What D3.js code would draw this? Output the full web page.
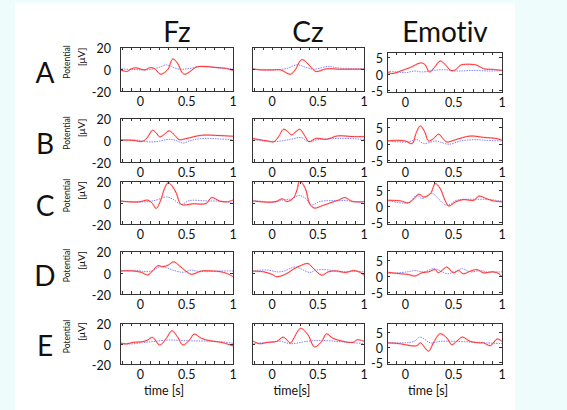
<!DOCTYPE html>
<html>
<head>
<meta charset="utf-8">
<script src="https://cdn.jsdelivr.net/npm/d3@7"></script>
<style>
  html, body { margin: 0; padding: 0; background: #effcfc; }
  svg { display: block; }
  text { font-family: Lato, "Open Sans", sans-serif; fill: #111; }
</style>
</head>
<body>
<div id="chart"></div>
<script>
// DATA -------------------------------------------------------------------
const rowNames = ["A", "B", "C", "D", "E"];
const colNames = ["Fz", "Cz", "Emotiv"];
const xTickValues = [0, 0.5, 1];
const xMinorTicks = [-0.2, -0.1, 0, 0.1, 0.2, 0.3, 0.4, 0.5, 0.6, 0.7, 0.8, 0.9, 1];
const capTicks = [-20, 0, 20];
const emotivTicks = [-5, 0, 5];
const xLabels = ["time [s]", "time[s]", "time [s]"];

// [time (s), potential (uV)] for each row / channel; red = target, blue = standard
const fzA_red = [[-0.23,0],[-0.15,-2.3],[-0.1,0],[-0.05,1.1],[0,0],[0.05,-0.8],[0.1,1.1],[0.15,0.5],[0.2,-3.8],[0.22,-4.8],[0.25,-3.8],[0.3,0],[0.35,9.1],[0.4,5.4],[0.45,-3.2],[0.48,-4.8],[0.55,-1.4],[0.6,1.7],[0.66,2.3],[0.86,1.1],[0.93,0.5],[1,-1.4]];
const fzA_blue = [[-0.23,0.2],[-0.08,-0.5],[0.06,-0.8],[0.13,-0.2],[0.21,1.7],[0.28,3.8],[0.33,2.3],[0.42,-0.2],[0.53,0.5],[0.64,2.3],[0.71,2.3],[0.86,0.8],[1,0.2]];
const czA_red = [[-0.22,0.2],[-0.125,-0.8],[0,-0.8],[0.09,-0.8],[0.2,-4.8],[0.25,-0.8],[0.32,8.5],[0.375,6],[0.43,0.8],[0.48,-2.3],[0.59,0.2],[0.73,-0.2],[0.875,-0.2],[1,-0.2]];
const czA_blue = [[-0.22,-0.2],[0.02,-0.8],[0.16,0.5],[0.27,3.8],[0.36,1.7],[0.45,-0.2],[0.61,2.3],[0.73,0.8],[1,0.2]];
const emA_red = [[-0.19,0.5],[-0.14,0],[-0.05,0.8],[0.05,1.9],[0.155,3.3],[0.2,2.9],[0.25,0.5],[0.3,1.9],[0.36,3.9],[0.41,2.9],[0.47,1],[0.52,1.2],[0.57,2.6],[0.64,2.9],[0.74,2.6],[0.81,1.5],[0.91,1.3],[1,1]];
const emA_blue = [[-0.19,0.7],[-0.09,0.5],[0,0.3],[0.1,0.8],[0.17,0.5],[0.29,1],[0.4,1.2],[0.53,0.8],[0.71,1],[0.88,0.8],[1,1]];

const fzB_red = [[-0.23,0],[-0.08,-0.3],[0.025,-1.2],[0.08,2.8],[0.13,8.9],[0.17,6.5],[0.21,2.8],[0.26,5.2],[0.31,8.3],[0.37,4.3],[0.42,0.3],[0.49,1.2],[0.66,4.3],[0.86,4],[1,3.4]];
const fzB_blue = [[-0.23,-0.3],[-0.05,0],[0.025,-0.9],[0.12,-1.8],[0.21,-0.9],[0.28,0.3],[0.33,0.6],[0.4,-0.9],[0.46,-2.8],[0.53,-0.9],[0.6,0.6],[0.71,1.5],[0.86,0.9],[1,0.3]];
const czB_red = [[-0.22,1.5],[-0.05,-0.9],[0.02,-1.5],[0.07,3.1],[0.125,9.8],[0.18,6.8],[0.21,4.6],[0.26,7.7],[0.3,9.8],[0.36,3.1],[0.4,-1.5],[0.48,1.5],[0.59,0.6],[0.71,3.7],[0.88,3.1],[1,3.1]];
const czB_blue = [[-0.22,0.6],[0.02,-1.5],[0.2,0.6],[0.32,2.2],[0.39,-1.5],[0.52,0.6],[0.73,1.5],[1,0.6]];
const emB_red = [[-0.19,0.8],[-0.09,1],[0,0.8],[0.07,0],[0.11,3.1],[0.155,5.4],[0.2,3.6],[0.24,0.8],[0.29,1.5],[0.345,2.9],[0.39,1.5],[0.43,0.5],[0.52,1.2],[0.67,2.3],[0.81,1.9],[0.95,1.5],[1,1]];
const emB_blue = [[-0.19,0.8],[0.02,0.5],[0.12,1.2],[0.19,0],[0.31,0.8],[0.36,0.5],[0.45,-0.2],[0.57,0.8],[0.71,1.2],[0.84,1],[1,0.8]];

const fzC_red = [[-0.23,1.5],[-0.12,0.6],[-0.01,0.6],[0.08,2.2],[0.13,-0.9],[0.17,-5.5],[0.22,2.2],[0.26,12.9],[0.3,18.5],[0.35,14.5],[0.39,8.3],[0.44,-1.8],[0.57,-1.2],[0.71,-0.9],[0.77,4.6],[0.86,1.2],[0.93,0.6],[1,2.2]];
const fzC_blue = [[-0.23,1.2],[0.06,0.6],[0.17,2.2],[0.28,5.2],[0.35,3.1],[0.44,-1.8],[0.53,1.8],[0.71,1.5],[0.86,1.2],[0.96,0],[1,-0.9]];
const czC_red = [[-0.22,1.5],[-0.05,0.3],[0.04,0.9],[0.11,3.4],[0.16,0.9],[0.23,4],[0.27,11.7],[0.3,20],[0.36,13.2],[0.41,-1.5],[0.46,-5.2],[0.55,-2.8],[0.625,-0.6],[0.73,2.5],[0.79,4.6],[0.875,0.9],[1,0.9]];
const czC_blue = [[-0.22,2.2],[0.02,0.3],[0.125,2.5],[0.21,3.4],[0.29,6.5],[0.36,4],[0.43,-2.2],[0.52,0.9],[0.66,1.8],[0.84,1.5],[1,-0.6]];
const emC_red = [[-0.19,1.8],[-0.05,1.6],[0.03,1],[0.09,2.3],[0.14,3.7],[0.19,2.8],[0.26,3.9],[0.31,7],[0.36,5.5],[0.41,1.8],[0.45,0],[0.52,1.3],[0.6,2],[0.71,1.8],[0.76,3.1],[0.84,2.3],[0.91,1.6],[1,1.3]];
const emC_blue = [[-0.19,1.8],[0.03,1],[0.12,3.4],[0.17,2.3],[0.28,3.9],[0.34,2.3],[0.43,0.2],[0.53,1.8],[0.71,2.1],[0.88,2],[1,1.5]];

const fzD_red = [[-0.23,1.4],[-0.08,1.4],[0.01,0.2],[0.08,-2.3],[0.13,1.4],[0.19,6.3],[0.24,5.4],[0.3,6.9],[0.36,10],[0.42,6.3],[0.49,1.4],[0.55,-1.7],[0.66,1.4],[0.78,1.4],[0.86,0.8],[0.93,-0.8],[1,-3.8]];
const fzD_blue = [[-0.23,1.4],[-0.05,2],[0.06,0.8],[0.13,1.7],[0.21,5.4],[0.28,4.5],[0.35,2.3],[0.46,0.2],[0.55,2.3],[0.6,1.4],[0.71,0.8],[0.86,1.4],[1,1.4]];
const czD_red = [[-0.22,1.2],[-0.09,0.6],[0,-1.8],[0.05,-4],[0.16,-0.9],[0.23,3.1],[0.32,6.8],[0.39,8.3],[0.45,3.7],[0.54,-2.5],[0.61,0.6],[0.7,1.5],[0.8,0],[0.89,1.8],[0.96,0],[1,-2.5]];
const czD_blue = [[-0.22,1.5],[-0.05,2.3],[0.05,0.6],[0.125,1.2],[0.25,5.2],[0.32,3.1],[0.41,0],[0.48,2.3],[0.625,2.3],[0.73,0.6],[0.875,1.2],[1,0.6]];
const emD_red = [[-0.19,1.2],[-0.05,0.7],[0.03,0.5],[0.1,0],[0.17,1],[0.24,1.3],[0.31,2],[0.34,1],[0.4,2.3],[0.43,2.8],[0.5,1],[0.55,1.7],[0.6,0.7],[0.67,1.5],[0.74,2],[0.81,1],[0.91,1.3],[0.97,0.7],[1,-0.3]];
const emD_blue = [[-0.19,0.7],[0.02,1.3],[0.1,1.7],[0.19,1.3],[0.29,2.3],[0.36,1.7],[0.43,0.7],[0.52,1.5],[0.59,2.3],[0.67,1.3],[0.78,1.7],[0.84,1.3],[1,1.3]];

const fzE_red = [[-0.23,0.8],[-0.155,-0.5],[-0.08,1.1],[0.025,1.8],[0.08,3.4],[0.13,6],[0.21,-1.5],[0.28,5],[0.34,12.4],[0.4,6.6],[0.46,-1.5],[0.53,3.4],[0.58,9.2],[0.66,5],[0.75,2.7],[0.82,1.8],[0.89,0.8],[1,-2.4]];
const fzE_blue = [[-0.23,0.8],[-0.12,-0.5],[0.025,0.8],[0.13,1.8],[0.31,3.4],[0.49,2.7],[0.68,2.4],[0.86,1.8],[1,0.2]];
const czE_red = [[-0.22,3],[-0.14,-0.2],[-0.05,1.1],[0.05,2.1],[0.12,6.2],[0.2,0.5],[0.23,4.3],[0.31,14.8],[0.39,8.4],[0.46,-3.3],[0.54,2.1],[0.59,9.4],[0.66,5.2],[0.77,2.1],[0.88,1.1],[0.93,3.7],[1,2.1]];
const czE_blue = [[-0.22,-0.2],[-0.05,1.1],[0.09,2.1],[0.2,-0.2],[0.375,2.1],[0.52,3],[0.7,2.1],[0.84,1.1],[1,-0.2]];
const emE_red = [[-0.19,1.3],[-0.05,1],[0.05,0.4],[0.12,0.4],[0.155,1.3],[0.24,-1.4],[0.29,1.3],[0.36,4.3],[0.43,2.9],[0.48,0.7],[0.53,1.8],[0.59,3.2],[0.67,1.8],[0.78,1.3],[0.81,1.3],[0.88,0.4],[0.95,2.6],[1,1.8]];
const emE_blue = [[-0.19,1.5],[-0.02,1.3],[0.09,1.8],[0.155,3.2],[0.26,1.3],[0.36,1.8],[0.53,1.8],[0.71,1.5],[0.84,1.3],[1,1.1]];

const series = {
  A: [[fzA_red, fzA_blue], [czA_red, czA_blue], [emA_red, emA_blue]],
  B: [[fzB_red, fzB_blue], [czB_red, czB_blue], [emB_red, emB_blue]],
  C: [[fzC_red, fzC_blue], [czC_red, czC_blue], [emC_red, emC_blue]],
  D: [[fzD_red, fzD_blue], [czD_red, czD_blue], [emD_red, emD_blue]],
  E: [[fzE_red, fzE_blue], [czE_red, czE_blue], [emE_red, emE_blue]],
};

// LAYOUT ----------------------------------------------------------------
const width = 567, height = 410;
const colBox = [
  { x0: 120, x1: 233, xDomain: [-0.22, 1], yDomain: [-20, 20], ticks: capTicks, labelGap: 9 },
  { x0: 252, x1: 364, xDomain: [-0.22, 1], yDomain: [-20, 20], ticks: capTicks, labelGap: null },
  { x0: 387, x1: 502, xDomain: [-0.19, 1], yDomain: [-5.6, 7.8], ticks: emotivTicks, labelGap: 4 },
];
const rowBox = [
  { y0: 47, y1: 91 },
  { y0: 118, y1: 162 },
  { y0: 181, y1: 224 },
  { y0: 251, y1: 294 },
  { y0: 323, y1: 364 },
];
const titleX = [177, 308, 445];
const xLabelX = [164, 292, 428];

const svg = d3.select("#chart").append("svg")
  .attr("width", width)
  .attr("height", height);

// white paper area
svg.append("rect")
  .attr("x", 15).attr("y", 3)
  .attr("width", 500).attr("height", height - 3)
  .attr("fill", "#fff");

// column titles
svg.selectAll(".colTitle").data(colNames).enter()
  .append("text")
  .attr("class", "colTitle")
  .attr("x", (d, i) => titleX[i])
  .attr("y", 42)
  .attr("text-anchor", "middle")
  .style("font-size", "28px")
  .style("font-variant-ligatures", "none")
  .text(d => d);

const defs = svg.append("defs");

rowNames.forEach((rowName, ri) => {
  const rb = rowBox[ri];
  const rowMid = (rb.y0 + rb.y1) / 2;

  // row letter
  svg.append("text")
    .attr("x", 45).attr("y", rb.y1 - 8)
    .attr("text-anchor", "middle")
    .style("font-size", "28px")
    .text(rowName);

  // y label
  const yl = svg.append("g").attr("transform", `translate(0, ${rowMid})`);
  yl.append("text")
    .attr("transform", "translate(70, -7) rotate(-90)")
    .attr("text-anchor", "middle")
    .style("font-size", "8.5px")
    .text("Potential");
  yl.append("text")
    .attr("transform", "translate(85, -12) rotate(-90)")
    .attr("text-anchor", "middle")
    .style("font-size", "10px")
    .text("[\u03bcV]");

  colNames.forEach((colName, ci) => {
    const cb = colBox[ci];
    let y0 = rb.y0, y1 = rb.y1;
    let yDomain = cb.yDomain;
    if (ci === 2 && ri === 0) { y0 = 52; y1 = 92; yDomain = [-5.7, 6.7]; }

    const x = d3.scaleLinear().domain(cb.xDomain).range([cb.x0, cb.x1]);
    const y = d3.scaleLinear().domain(yDomain).range([y1, y0]);

    const clipId = `clip-${rowName}-${ci}`;
    defs.append("clipPath").attr("id", clipId)
      .append("rect")
      .attr("x", cb.x0).attr("y", y0)
      .attr("width", cb.x1 - cb.x0).attr("height", y1 - y0);

    const g = svg.append("g").attr("class", `panel panel-${rowName}-${colName}`);

    const line = d3.line()
      .x(d => x(d[0]))
      .y(d => y(d[1]))
      .curve(d3.curveCatmullRom.alpha(0.5));

    const [red, blue] = series[rowName][ci];
    const plot = g.append("g").attr("clip-path", `url(#${clipId})`);

    plot.append("path")
      .attr("d", line(blue))
      .attr("fill", "none")
      .attr("stroke", "#6f6fff")
      .attr("stroke-width", 1)
      .attr("stroke-dasharray", "1.5,1")
      .attr("opacity", 0.85);

    plot.append("path")
      .attr("d", line(red))
      .attr("fill", "none")
      .attr("stroke", "#ff9a9a")
      .attr("stroke-width", 2)
      .attr("opacity", 0.35);

    plot.append("path")
      .attr("d", line(red))
      .attr("fill", "none")
      .attr("stroke", "#ff3030")
      .attr("stroke-width", 1);

    // inward ticks along x (top + bottom)
    const tk = g.append("g").attr("stroke", "#333").attr("stroke-width", 1);
    xMinorTicks.filter(t => t >= cb.xDomain[0] && t < 1).forEach(t => {
      const px = Math.round(x(t)) + 0.5;
      tk.append("line").attr("x1", px).attr("x2", px).attr("y1", y1).attr("y2", y1 - 3);
      tk.append("line").attr("x1", px).attr("x2", px).attr("y1", y0).attr("y2", y0 + 3);
    });
    cb.ticks.forEach(v => {
      const py = Math.round(y(v)) + 0.5;
      tk.append("line").attr("x1", cb.x0).attr("x2", cb.x0 + 3).attr("y1", py).attr("y2", py);
      tk.append("line").attr("x1", cb.x1).attr("x2", cb.x1 - 3).attr("y1", py).attr("y2", py);
    });

    // frame
    g.append("rect")
      .attr("x", cb.x0 + 0.5).attr("y", y0 + 0.5)
      .attr("width", cb.x1 - cb.x0).attr("height", y1 - y0)
      .attr("fill", "none")
      .attr("stroke", "#333")
      .attr("stroke-width", 1);

    // x tick labels
    g.selectAll(".xl").data(xTickValues).enter()
      .append("text")
      .attr("x", d => x(d))
      .attr("y", y1 + 15)
      .attr("text-anchor", "middle")
      .style("font-size", "12.5px")
      .text(d => d);

    // y tick labels
    if (cb.labelGap !== null) {
      g.selectAll(".yl").data(cb.ticks).enter()
        .append("text")
        .attr("x", cb.x0 - cb.labelGap)
        .attr("y", d => y(d) + 6)
        .attr("text-anchor", "end")
        .style("font-size", "12.5px")
        .text(d => d);
    }

    if (ri === rowNames.length - 1) {
      svg.append("text")
        .attr("x", xLabelX[ci])
        .attr("y", 395)
        .attr("text-anchor", "middle")
        .style("font-size", "12.5px")
        .text(xLabels[ci]);
    }
  });
});
</script>
</body>
</html>
